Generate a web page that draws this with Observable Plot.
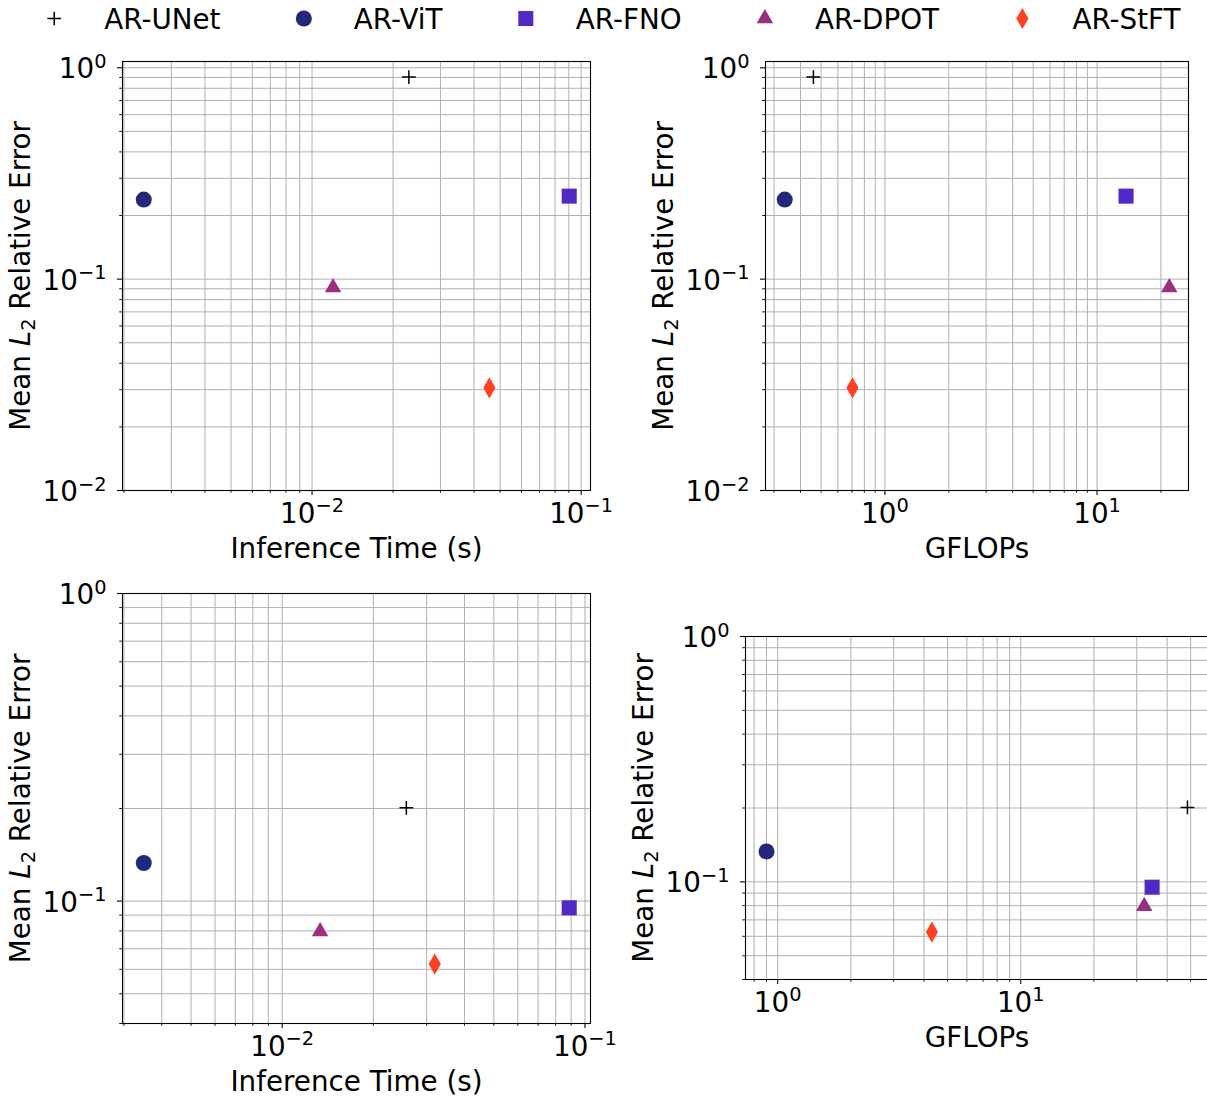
<!DOCTYPE html>
<html><head><meta charset="utf-8">
<script src="https://cdn.jsdelivr.net/npm/d3@7"></script>
<script src="https://cdn.jsdelivr.net/npm/@observablehq/plot@0.6"></script>
<style>
html,body{margin:0;padding:0;background:#fff;overflow:hidden;}
#root{position:relative;width:1207px;height:1099px;overflow:hidden;font-family:"DejaVu Sans",sans-serif;background:#fff;}
#root svg{position:absolute;overflow:visible;background:none;}
</style></head><body><div id="root"></div>
<script>
// ---- data ----
const models  = ["AR-UNet", "AR-ViT", "AR-FNO", "AR-DPOT", "AR-StFT"];
const symbols = ["plus", "circle", "square", "triangle", "diamond"];
const colors  = ["#000000", "#24287a", "#5129c4", "#982f81", "#ff4023"];
const radii   = [4.5, 8, 8.5, 6.1, 6.4];

// top row
const timeTop  = [0.0229, 0.00237, 0.0903, 0.01197, 0.0456];
const flopsTop = [0.460, 0.337, 13.7, 21.9, 0.703];
const errTop   = [0.904, 0.238, 0.247, 0.0913, 0.0306];
// bottom row
const timeBot  = [0.0257, 0.00349, 0.0887, 0.01334, 0.0319];
const flopsBot = [48.5, 0.900, 34.7, 32.2, 4.31];
const errBot   = [0.201, 0.133, 0.0951, 0.0796, 0.0624];

const xLabelTime = "Inference Time (s)";
const xLabelFlops = "GFLOPs";
const yLabel = "Mean L2 Relative Error";

const FS = 27.78;
const FS_SMALL = 19.4;
const NS = "http://www.w3.org/2000/svg";
const root = document.getElementById("root");

function autoLog(vals) {
  const l = vals.map(Math.log10);
  const a = d3.min(l), b = d3.max(l), m = 0.05 * (b - a);
  return [10 ** (a - m), 10 ** (b + m)];
}
function logTicks([a, b]) {
  const major = [], minor = [];
  for (let e = Math.floor(Math.log10(a)) ; e <= Math.ceil(Math.log10(b)); e++) {
    for (let k = 1; k < 10; k++) {
      const v = +(k * 10 ** e).toPrecision(6);
      if (v < a * 0.99999 || v > b * 1.00001) continue;
      (k === 1 ? major : minor).push(v);
    }
  }
  return {major, minor};
}
const expo = v => {
  const e = Math.round(Math.log10(v));
  return "10^" + (e < 0 ? "\u2212" + (-e) : String(e));
};

function panel({xs, ys, xDomain, yDomain, xLabel, left, top, width, height, m}) {
  const xt = logTicks(xDomain), yt = logTicks(yDomain);
  const idx = d3.range(models.length);
  const gridStyle = {stroke: "#b0b0b0", strokeOpacity: 1, strokeWidth: 1};
  const marks = [
    Plot.gridX(xt.minor, gridStyle),
    Plot.gridX(xt.major, gridStyle),
    Plot.gridY(yt.minor, gridStyle),
    Plot.gridY(yt.major, gridStyle),
    Plot.axisX(xt.major, {tickSize: 5, tickFormat: () => "", label: null, strokeWidth: 1.1, stroke: "black"}),
    Plot.axisX(xt.minor, {tickSize: 2.8, tickFormat: () => "", label: null, strokeWidth: 0.9, stroke: "black"}),
    Plot.axisY(yt.major, {tickSize: 5, tickFormat: () => "", label: null, strokeWidth: 1.1, stroke: "black"}),
    Plot.axisY(yt.minor, {tickSize: 2.8, tickFormat: () => "", label: null, strokeWidth: 0.9, stroke: "black"}),
    Plot.text(xt.major, {x: d => d, text: expo, frameAnchor: "bottom", dy: 32, lineAnchor: "bottom",
      textAnchor: "middle", fontSize: FS, fill: "black"}),
    Plot.text(yt.major, {y: d => d, text: expo, frameAnchor: "left", dx: -16, dy: 10.5, lineAnchor: "bottom",
      textAnchor: "end", fontSize: FS, fill: "black"}),
    Plot.text([xLabel], {text: d => d, frameAnchor: "bottom", dy: 67.5, lineAnchor: "bottom",
      textAnchor: "middle", fontSize: FS, fill: "black"}),
    Plot.text([yLabel], {text: d => d, frameAnchor: "left", dx: -101, rotate: -90, lineAnchor: "middle",
      textAnchor: "middle", fontSize: FS, fill: "black"}),
    ...idx.map(i => Plot.dot([i], {
      x: j => xs[j], y: j => ys[j], symbol: symbols[i], r: radii[i],
      fill: symbols[i] === "plus" ? "none" : colors[i],
      stroke: symbols[i] === "plus" ? colors[i] : "none",
      strokeWidth: 1.5
    })),
    Plot.frame({stroke: "black", strokeWidth: 1.1})
  ];
  const svg = Plot.plot({
    width, height,
    marginTop: m[0], marginRight: m[1], marginBottom: m[2], marginLeft: m[3],
    x: {type: "log", domain: xDomain, label: null},
    y: {type: "log", domain: yDomain, label: null},
    style: {fontFamily: "DejaVu Sans", fontSize: FS + "px", background: "none", overflow: "visible"},
    marks
  });
  svg.style.left = left + "px";
  svg.style.top = top + "px";
  svg.style.maxWidth = "none";
  root.appendChild(svg);
  svg.querySelectorAll("text").forEach(t => {
    if (t.querySelector("tspan")) return;
    const s = t.textContent;
    if (s.startsWith("10^")) {
      // superscript exponent
      t.textContent = "10";
      const ts = document.createElementNS(NS, "tspan");
      ts.setAttribute("dy", -10.5);
      ts.setAttribute("font-size", FS_SMALL);
      ts.textContent = s.slice(3);
      t.appendChild(ts);
    } else if (s === yLabel) {
      // italic L with subscript 2
      t.textContent = "Mean ";
      const a = document.createElementNS(NS, "tspan");
      a.setAttribute("font-style", "italic"); a.textContent = "L";
      const b = document.createElementNS(NS, "tspan");
      b.setAttribute("font-size", FS_SMALL); b.setAttribute("dy", 5); b.textContent = "2";
      const c = document.createElementNS(NS, "tspan");
      c.setAttribute("dy", -5); c.textContent = " Relative Error";
      t.append(a, b, c);
    }
  });
}

const yTop = [0.01, autoLog(errTop)[1]];
const yBot = [0.04, 1];

panel({xs: timeTop, ys: errTop, xDomain: autoLog(timeTop), yDomain: yTop, xLabel: xLabelTime,
  left: 0, top: 0, width: 620, height: 580, m: [61, 30, 90, 122]});
panel({xs: flopsTop, ys: errTop, xDomain: autoLog(flopsTop), yDomain: yTop, xLabel: xLabelFlops,
  left: 620, top: 0, width: 587, height: 580, m: [61, 19, 90, 145]});
panel({xs: timeBot, ys: errBot, xDomain: autoLog(timeBot), yDomain: yBot, xLabel: xLabelTime,
  left: 0, top: 560, width: 620, height: 539, m: [33, 30, 76, 122]});
panel({xs: flopsBot, ys: errBot, xDomain: autoLog(flopsBot), yDomain: yBot, xLabel: xLabelFlops,
  left: 620, top: 560, width: 600, height: 539, m: [76, 12, 120, 125]});

// ---- legend (matplotlib-like layout, centered) ----
const lg = document.createElementNS(NS, "svg");
lg.setAttribute("width", 1207); lg.setAttribute("height", 45);
lg.style.left = "0px"; lg.style.top = "0px";
root.appendChild(lg);
const texts = models.map(name => {
  const t = document.createElementNS(NS, "text");
  t.setAttribute("font-family", "DejaVu Sans");
  t.setAttribute("font-size", FS);
  t.setAttribute("y", 28.5);
  t.textContent = name;
  lg.appendChild(t);
  return t;
});
const widths = texts.map(t => t.getComputedTextLength());
const handle = 2 * FS, pad = 0.8 * FS, colSp = 2 * FS;
const total = d3.sum(widths) + models.length * (handle + pad) + (models.length - 1) * colSp;
let x0 = 603.5 - total / 2;
const symMap = {plus: d3.symbolPlus, circle: d3.symbolCircle, square: d3.symbolSquare, triangle: d3.symbolTriangle, diamond: d3.symbolDiamond};
models.forEach((name, i) => {
  const cx = x0 + handle / 2;
  const p = document.createElementNS(NS, "path");
  p.setAttribute("d", d3.symbol(symMap[symbols[i]], Math.PI * radii[i] ** 2)());
  p.setAttribute("transform", `translate(${cx},18.5)`);
  if (symbols[i] === "plus") { p.setAttribute("fill", "none"); p.setAttribute("stroke", colors[i]); p.setAttribute("stroke-width", 1.5); }
  else p.setAttribute("fill", colors[i]);
  lg.appendChild(p);
  texts[i].setAttribute("x", x0 + handle + pad);
  x0 += handle + pad + widths[i] + colSp;
});
</script></body></html>
